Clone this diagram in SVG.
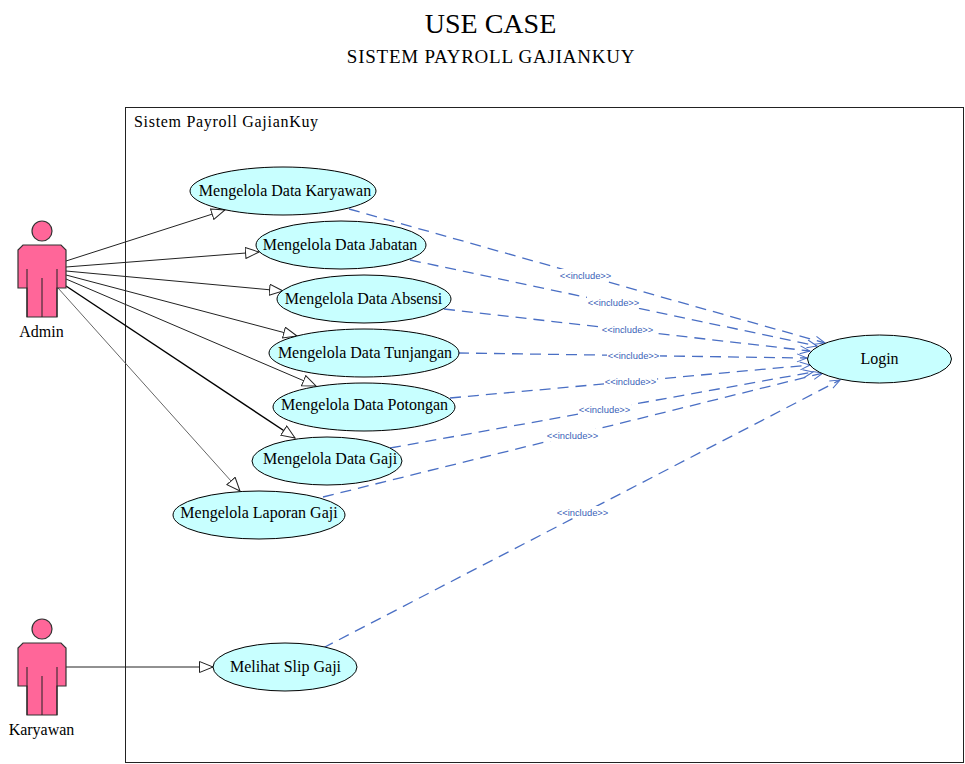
<svg xmlns="http://www.w3.org/2000/svg" width="965" height="764" viewBox="0 0 965 764">
<style>
text{font-family:"Liberation Serif","Times New Roman",serif;fill:#000}
.title{font-size:28px;text-anchor:middle}
.sub{font-size:19px;letter-spacing:0.75px;text-anchor:middle}
.lbl{font-size:16px;text-anchor:middle}
.uc{fill:#c8ffff;stroke:#000;stroke-width:1}
.actor{fill:#ff6699;stroke:#333;stroke-width:1.2}
.assoc{fill:none;stroke:#222;stroke-width:1;marker-end:url(#tri)}
.dep{fill:none;stroke:#4a6fc4;stroke-width:1.3;stroke-dasharray:11 7;marker-end:url(#open)}
.inc{font-family:"Liberation Sans",Arial,sans-serif;font-size:9.4px;fill:#3a5fb8;text-anchor:middle}
.bg{fill:#fff}
</style>
<defs>
<marker id="tri" markerUnits="userSpaceOnUse" markerWidth="16" markerHeight="14" refX="14" refY="6" orient="auto"><path d="M0.5 0.5L14 6L0.5 11.5Z" fill="#fff" stroke="#222"/></marker>
<marker id="open" markerUnits="userSpaceOnUse" markerWidth="14" markerHeight="12" refX="11" refY="5" orient="auto"><path d="M1 1L11 5L1 9" fill="none" stroke="#4a6fc4" stroke-width="1"/></marker>
<g id="fig"><circle cx="42" cy="231" r="10" class="actor"/><path class="actor" d="M23 245H61L66 250V288H57V317H27V288H18V250Z"/><path d="M27 269V317M57 269V317M42 278V317" fill="none" stroke="#222" stroke-width="1"/></g>
</defs>
<text class="title" x="490.500" y="33">USE CASE</text>
<text class="sub" x="491" y="63">SISTEM PAYROLL GAJIANKUY</text>
<g id="system"><rect x="125.500" y="107.500" width="838" height="655" fill="#fff" stroke="#222"/><text x="134" y="127" font-size="16" letter-spacing="0.7">Sistem Payroll GajianKuy</text></g>
<g id="connectors">
<line class="assoc" x1="66" y1="261" x2="225" y2="210"/>
<line class="assoc" x1="66" y1="267" x2="259" y2="252"/>
<line class="assoc" x1="66" y1="271" x2="283" y2="291"/>
<line class="assoc" x1="66" y1="275" x2="297" y2="336"/>
<line class="assoc" x1="66" y1="279" x2="316" y2="386"/>
<line class="assoc" style="stroke:#000;stroke-width:1.4" x1="66" y1="286" x2="295" y2="438"/>
<line class="assoc" style="stroke:#555;stroke-width:0.9" x1="58" y1="288" x2="240" y2="491"/>
<line class="assoc" x1="66" y1="667" x2="213" y2="667"/>
<line class="dep" x1="349" y1="209" x2="825" y2="343"/>
<line class="dep" x1="410" y1="260" x2="817" y2="346"/>
<line class="dep" x1="444" y1="309" x2="810" y2="351"/>
<line class="dep" x1="458" y1="353" x2="807" y2="358"/>
<line class="dep" x1="450" y1="398" x2="810" y2="365"/>
<line class="dep" x1="390" y1="448" x2="813" y2="372"/>
<line class="dep" x1="323" y1="497" x2="823" y2="373"/>
<line class="dep" x1="323" y1="648" x2="840" y2="380"/>
<g>
<rect class="bg" x="559" y="269" width="53" height="12"/><text class="inc" x="585.500" y="278.500">&lt;&lt;include&gt;&gt;</text>
<rect class="bg" x="587" y="296" width="53" height="12"/><text class="inc" x="613.500" y="305.500">&lt;&lt;include&gt;&gt;</text>
<rect class="bg" x="601" y="323" width="53" height="12"/><text class="inc" x="627.500" y="332.500">&lt;&lt;include&gt;&gt;</text>
<rect class="bg" x="607" y="349" width="53" height="12"/><text class="inc" x="633.500" y="358.500">&lt;&lt;include&gt;&gt;</text>
<rect class="bg" x="604" y="375" width="53" height="12"/><text class="inc" x="630.500" y="384.500">&lt;&lt;include&gt;&gt;</text>
<rect class="bg" x="578" y="403" width="53" height="12"/><text class="inc" x="604.500" y="412.500">&lt;&lt;include&gt;&gt;</text>
<rect class="bg" x="546" y="429" width="53" height="12"/><text class="inc" x="572.500" y="438.500">&lt;&lt;include&gt;&gt;</text>
<rect class="bg" x="556" y="506" width="53" height="12"/><text class="inc" x="582.500" y="515.500">&lt;&lt;include&gt;&gt;</text>
</g>
</g>
<g id="admin"><use href="#fig"/><text class="lbl" x="41.500" y="337">Admin</text></g>
<g id="karyawan"><use href="#fig" y="398"/><text class="lbl" x="41.500" y="735">Karyawan</text></g>
<g id="uc-karyawan"><ellipse class="uc" cx="283" cy="191" rx="93" ry="24"/><text class="lbl" x="285" y="196">Mengelola Data Karyawan</text></g>
<g id="uc-jabatan"><ellipse class="uc" cx="341" cy="245" rx="85" ry="24"/><text class="lbl" x="340" y="250">Mengelola Data Jabatan</text></g>
<g id="uc-absensi"><ellipse class="uc" cx="364" cy="299" rx="87" ry="24"/><text class="lbl" x="363.500" y="304">Mengelola Data Absensi</text></g>
<g id="uc-tunjangan"><ellipse class="uc" cx="364" cy="353" rx="95" ry="24"/><text class="lbl" x="365" y="358">Mengelola Data Tunjangan</text></g>
<g id="uc-potongan"><ellipse class="uc" cx="364" cy="407" rx="91" ry="24"/><text class="lbl" x="364.500" y="410">Mengelola Data Potongan</text></g>
<g id="uc-gaji"><ellipse class="uc" cx="327" cy="461" rx="75" ry="24"/><text class="lbl" x="330" y="464">Mengelola Data Gaji</text></g>
<g id="uc-laporan"><ellipse class="uc" cx="259" cy="515" rx="86" ry="24"/><text class="lbl" x="259" y="518">Mengelola Laporan Gaji</text></g>
<g id="uc-slip"><ellipse class="uc" cx="285" cy="667" rx="72" ry="24"/><text class="lbl" x="285.500" y="672">Melihat Slip Gaji</text></g>
<g id="uc-login"><ellipse class="uc" cx="879.500" cy="359" rx="72" ry="24"/><text class="lbl" x="879.500" y="364">Login</text></g>
</svg>
